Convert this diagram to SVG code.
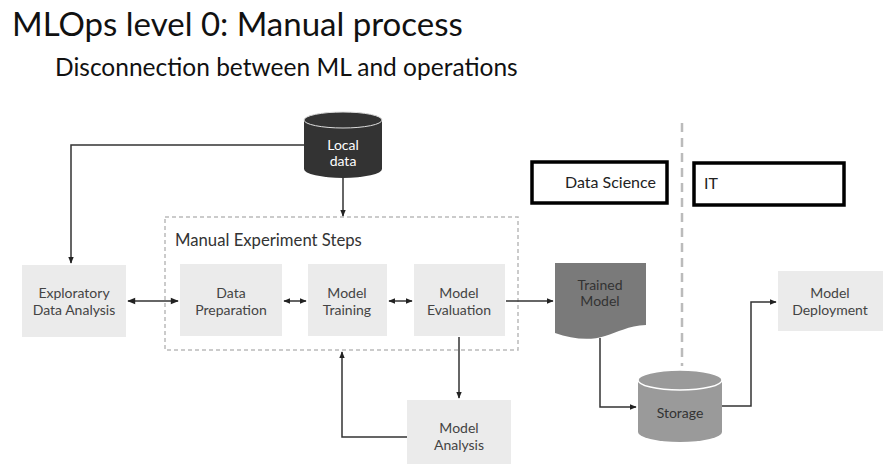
<svg xmlns="http://www.w3.org/2000/svg" width="893" height="464" viewBox="0 0 893 464">
<defs>
<style>
.t{font-family:Lato,"Open Sans","Liberation Sans",sans-serif;}
.box{fill:#ebebeb;}
.bt{font-family:Lato,"Open Sans","Liberation Sans",sans-serif;font-size:14px;fill:#444;text-anchor:middle;}
.ln{fill:none;stroke:#333;stroke-width:1.5;}
.lbl{fill:#fff;stroke:#000;stroke-width:3.5;}
</style>
<marker id="ah" viewBox="0 0 10 10" refX="9" refY="5" markerWidth="7" markerHeight="7" orient="auto-start-reverse" markerUnits="userSpaceOnUse">
<path d="M0,1 L10,5 L0,9 Z" fill="#222"/>
</marker>
<marker id="ah2" viewBox="0 0 10 10" refX="9" refY="5" markerWidth="10" markerHeight="8" orient="auto-start-reverse" markerUnits="userSpaceOnUse">
<path d="M0,1 L10,5 L0,9 Z" fill="#222"/>
</marker>
</defs>
<rect width="893" height="464" fill="#fff"/>
<text class="t" x="12" y="36" font-size="33" fill="#111">MLOps level 0: Manual process</text>
<text class="t" x="55" y="76" font-size="24.5" fill="#111">Disconnection between ML and operations</text>

<rect x="165" y="217" width="353" height="133" fill="none" stroke="#bbb" stroke-width="1.5" stroke-dasharray="4,3"/>
<text class="t" x="175" y="246" font-size="16.7" fill="#333">Manual Experiment Steps</text>

<line x1="682" y1="123" x2="682" y2="366" stroke="#bbb" stroke-width="2.5" stroke-dasharray="9,6"/>

<g id="local-data">
<path d="M304,120 L304,169 A39,9 0 0 0 382,169 L382,120 Z" fill="#333"/>
<ellipse cx="343" cy="120" rx="39" ry="8" fill="#333" stroke="#ddd" stroke-width="1"/>
<text class="bt" x="343" y="150" style="fill:#fff">Local</text>
<text class="bt" x="343" y="166" style="fill:#fff">data</text>
</g>

<g id="eda"><rect class="box" x="22" y="265" width="104" height="72"/>
<text class="bt" x="74" y="298">Exploratory</text><text class="bt" x="74" y="315">Data Analysis</text></g>
<g id="data-prep"><rect class="box" x="180" y="264" width="102" height="72"/>
<text class="bt" x="231" y="298">Data</text><text class="bt" x="231" y="315">Preparation</text></g>
<g id="model-training"><rect class="box" x="308" y="264" width="79" height="72"/>
<text class="bt" x="347" y="298">Model</text><text class="bt" x="347" y="315">Training</text></g>
<g id="model-evaluation"><rect class="box" x="414" y="264" width="91" height="72"/>
<text class="bt" x="459" y="298">Model</text><text class="bt" x="459" y="315">Evaluation</text></g>

<g id="trained-model">
<path d="M555,263 L646,263 L646,325 C628,326 618,332 605,336 C590,341 572,339 555,333 Z" fill="#7a7a7a"/>
<text class="bt" x="600" y="290" style="fill:#333">Trained</text><text class="bt" x="600" y="306" style="fill:#333">Model</text>
</g>

<g id="data-science"><rect class="lbl" x="532" y="162" width="135" height="41"/>
<text class="t" x="656" y="188" font-size="16" fill="#222" text-anchor="end">Data Science</text></g>
<g id="it"><rect class="lbl" x="694" y="163" width="150" height="42"/>
<text class="t" x="704" y="189" font-size="16" fill="#222">IT</text></g>

<g id="model-deployment"><rect class="box" x="778" y="271" width="105" height="60"/>
<text class="bt" x="830" y="298">Model</text><text class="bt" x="830" y="315">Deployment</text></g>

<g id="storage">
<path d="M638,380 L638,432 A42,10 0 0 0 722,432 L722,380 Z" fill="#9a9a9a"/>
<ellipse cx="680" cy="380" rx="42" ry="10" fill="#9a9a9a" stroke="#fff" stroke-width="1.5"/>
<text class="bt" x="680" y="418" style="fill:#333">Storage</text>
</g>

<g id="model-analysis"><rect class="box" x="407" y="400" width="104" height="70"/>
<text class="bt" x="459" y="433">Model</text><text class="bt" x="459" y="450">Analysis</text></g>

<g id="connectors">
<path class="ln" d="M304,145 L71,145 L71,263" marker-end="url(#ah)"/>
<path class="ln" d="M343,178 L343,216" marker-end="url(#ah)"/>
<path class="ln" d="M128,301 L178,301" marker-start="url(#ah2)" marker-end="url(#ah2)"/>
<path class="ln" d="M284,301 L306,301" marker-start="url(#ah)" marker-end="url(#ah)"/>
<path class="ln" d="M389,301 L412,301" marker-start="url(#ah)" marker-end="url(#ah)"/>
<path class="ln" d="M506,301 L553,301" marker-end="url(#ah)"/>
<path class="ln" d="M600,338 L600,407 L636,407" marker-end="url(#ah)"/>
<path class="ln" d="M722,406 L751,406 L751,302 L776,302" marker-end="url(#ah)"/>
<path class="ln" d="M459,337 L459,398" marker-end="url(#ah)"/>
<path class="ln" d="M407,437 L342,437 L342,352" marker-end="url(#ah)"/>
</g>
</svg>
